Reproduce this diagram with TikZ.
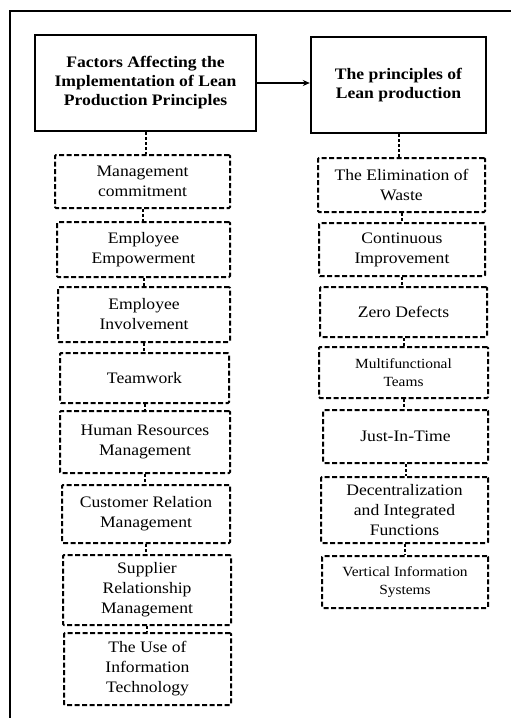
\documentclass[tikz,border=0pt]{standalone}
\usepackage{fontspec}
\setmainfont[FakeStretch=1.1]{Liberation Serif}
\usetikzlibrary{arrows.meta}
\tikzset{
  frame/.style={line width=1.8pt},
  titlebox/.style={draw, line width=2.4pt, align=center, inner sep=0pt,
    font=\fontsize{16}{19}\selectfont\bfseries},
  dbox/.style={draw, line width=2pt, dash pattern=on 5pt off 2.5pt,
    rounded corners=1pt, align=center, inner sep=0pt,
    font=\fontsize{16}{20}\selectfont},
  sbox/.style={dbox, font=\fontsize{14}{18}\selectfont},
  link/.style={line width=2pt, dash pattern=on 3pt off 2pt},
  arrowlink/.style={line width=1.6pt, -{Stealth[length=7pt,width=6pt]}},
  sz/.style 2 args={minimum width=#1pt, minimum height=#2pt},
}
\begin{document}
\begin{tikzpicture}[x=1pt,y=-1pt]
\fill[white] (0,0) rectangle (512,718);
\useasboundingbox (0,0) rectangle (512,718);
\draw[frame] (10,718) -- (10,11) -- (511,11);

% title boxes
\node[titlebox, sz={221}{96}] (lt) at (145.5,83) {Factors Affecting the\\Implementation of Lean\\Production Principles};
\node[titlebox, sz={175}{96}] (rt) at (398.5,85) {The principles of\\Lean production};
\draw[arrowlink] (lt.east) -- (rt.west |- lt.east);

% left column
\node[dbox, sz={175}{53}] (l1) at (142.5,181.5) {Management\\commitment};
\node[dbox, sz={173}{55}] (l2) at (143.5,249.5) {Employee\\Empowerment};
\node[dbox, sz={172}{55}] (l3) at (144,314.5) {Employee\\Involvement};
\node[dbox, sz={169}{50}] (l4) at (144.5,378) {Teamwork};
\node[dbox, sz={170}{62}] (l5) at (145,442) {Human Resources\\Management};
\node[dbox, sz={168}{58}] (l6) at (146,514) {Customer Relation\\Management};
\node[dbox, sz={168}{70}] (l7) at (147,590) {Supplier\\Relationship\\Management};
\node[dbox, sz={167}{72}] (l8) at (147.5,669) {The Use of\\Information\\Technology};

% right column
\node[dbox, sz={167}{54}] (r1) at (401.5,185) {The Elimination of\\Waste};
\node[dbox, sz={166}{53}] (r2) at (402,249.5) {Continuous\\Improvement};
\node[dbox, sz={167}{50}] (r3) at (403.5,312) {Zero Defects};
\node[sbox, sz={169}{51}] (r4) at (403.5,372.5) {Multifunctional\\Teams};
\node[dbox, sz={165}{53}] (r5) at (405.5,436.5) {Just-In-Time};
\node[dbox, sz={167}{66}] (r6) at (404.5,510) {Decentralization\\and Integrated\\Functions};
\node[sbox, sz={166}{52}] (r7) at (405,582) {Vertical Information\\Systems};

% connectors
\foreach \a/\b in {lt/l1,l1/l2,l2/l3,l3/l4,l4/l5,l5/l6,l6/l7,l7/l8,
                   rt/r1,r1/r2,r2/r3,r3/r4,r4/r5,r5/r6,r6/r7}
  \draw[link] (\a.south) -- (\a.south |- \b.north);
\end{tikzpicture}
\end{document}
